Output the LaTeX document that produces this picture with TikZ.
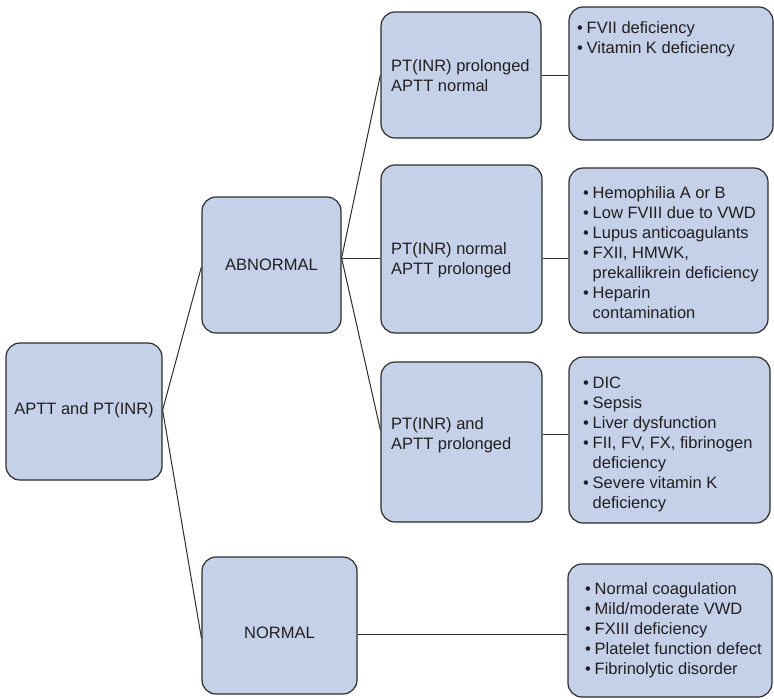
\documentclass[tikz,border=0pt]{standalone}
\usepackage{fontspec}
\setmainfont{Liberation Sans}
\definecolor{boxfill}{RGB}{197,208,233}
\definecolor{boxline}{RGB}{45,45,45}
\definecolor{txt}{RGB}{35,31,32}
\newcommand{\bul}{\makebox[9.5pt][l]{\textbullet}}
\newcommand{\ind}{\hspace*{9.5pt}}
\begin{document}
\begin{tikzpicture}[x=1pt,y=-1pt,
  box/.style={draw=boxline, fill=boxfill, line width=1.2pt, rounded corners=14pt, inner sep=0pt},
  lbl/.style={inner sep=0pt, text=txt, font=\fontsize{16.5}{20}\selectfont, align=left},
  conn/.style={draw=boxline, line width=1pt}]
\useasboundingbox (0,0) rectangle (774,699);
% boxes
\node[box, minimum width=156pt, minimum height=137pt] (root) at (84,411.5) {};
\node[box, minimum width=139pt, minimum height=136pt] (abn) at (271.5,265) {};
\node[box, minimum width=155pt, minimum height=137pt] (nor) at (279.5,625.5) {};
\node[box, minimum width=160pt, minimum height=126pt] (b1) at (461,75) {};
\node[box, minimum width=161pt, minimum height=168pt] (b2) at (461.5,249) {};
\node[box, minimum width=161pt, minimum height=160pt] (b3) at (461.5,442) {};
\node[box, minimum width=204pt, minimum height=133pt] (r1) at (671,73.5) {};
\node[box, minimum width=199pt, minimum height=165pt] (r2) at (668.5,250.5) {};
\node[box, minimum width=201pt, minimum height=166pt] (r3) at (669.5,440) {};
\node[box, minimum width=204pt, minimum height=133pt] (r4) at (670,630.5) {};
% texts (base anchor = baseline of the last line)
\node[lbl] (troot) at (84,410) {APTT and PT(INR)};
\node[lbl] (tabn) at (271.5,265) {ABNORMAL};
\node[lbl] (tnor) at (279.5,633) {NORMAL};
\node[lbl, anchor=base west] (tb1) at (391,91) {PT(INR) prolonged\\APTT normal};
\node[lbl, anchor=base west] (tb2) at (391,274) {PT(INR) normal\\APTT prolonged};
\node[lbl, anchor=base west] (tb3) at (391,449) {PT(INR) and\\APTT prolonged};
\node[lbl, anchor=base west] (tr1) at (577,53) {\bul FVII deficiency\\\bul Vitamin K deficiency};
\node[lbl, anchor=base west] (tr2) at (583,318) {\bul Hemophilia A or B\\\bul Low FVIII due to VWD\\\bul Lupus anticoagulants\\\bul FXII, HMWK,\\\ind prekallikrein deficiency\\\bul Heparin\\\ind contamination};
\node[lbl, anchor=base west] (tr3) at (583,508) {\bul DIC\\\bul Sepsis\\\bul Liver dysfunction\\\bul FII, FV, FX, fibrinogen\\\ind deficiency\\\bul Severe vitamin K\\\ind deficiency};
\node[lbl, anchor=base west] (tr4) at (585,674) {\bul Normal coagulation\\\bul Mild/moderate VWD\\\bul FXIII deficiency\\\bul Platelet function defect\\\bul Fibrinolytic disorder};
% connectors
\draw[conn] (root.east |- 0,410) -- (abn.west |- 0,267);
\draw[conn] (root.east |- 0,410) -- (nor.west |- 0,638);
\draw[conn] (abn.east |- 0,258) -- (b1.west |- 0,75);
\draw[conn] (abn.east |- 0,258) -- (b2.west |- 0,258);
\draw[conn] (abn.east |- 0,258) -- (b3.west |- 0,430);
\draw[conn] (b1.east |- 0,75) -- (r1.west |- 0,75);
\draw[conn] (b2.east |- 0,258) -- (r2.west |- 0,258);
\draw[conn] (b3.east |- 0,434) -- (r3.west |- 0,434);
\draw[conn] (nor.east |- 0,634) -- (r4.west |- 0,634);
\end{tikzpicture}
\end{document}
